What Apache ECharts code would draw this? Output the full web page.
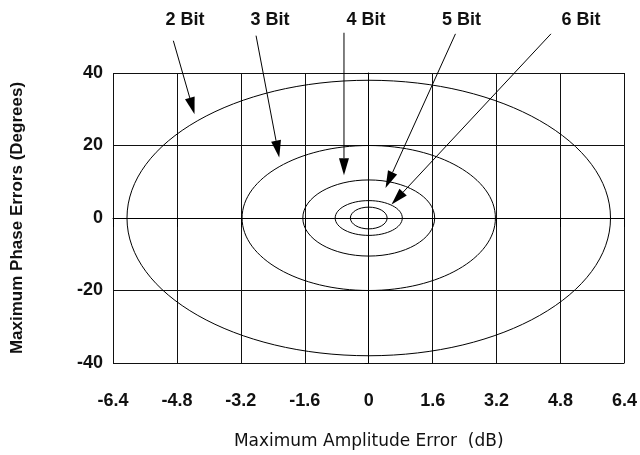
<!DOCTYPE html>
<html>
<head>
<meta charset="utf-8">
<script src="https://cdn.jsdelivr.net/npm/echarts@6/dist/echarts.min.js"></script>
<style>
html, body { margin: 0; padding: 0; background: #fff; }
#chart { width: 640px; height: 455px; }
</style>
</head>
<body>
<div id="chart"></div>
<script>
// phase shifter error ellipses, one per bit count
const bits = ["2 Bit", "3 Bit", "4 Bit", "5 Bit", "6 Bit"];
const ampRadius = [6.05, 3.17, 1.65, 0.84, 0.46];   // dB
const phaseRadius = [38, 20, 10.5, 4.8, 3.0];       // degrees

// label + arrow annotations (data coords)
const labelPos = [[-4.6, 54.6], [-2.47, 54.6], [-0.07, 54.6], [2.32, 54.6], [5.31, 54.6]];
const arrowFrom = [[-4.89, 48.9], [-2.82, 50.3], [-0.62, 51.1], [2.17, 50.8], [4.56, 50.8]];
const arrowTo = [[-4.36, 28.6], [-2.24, 16.7], [-0.62, 11.8], [0.42, 8.3], [0.57, 3.7]];

const xTicks = [-6.4, 6.4, 1.6];
const yTicks = [-40, 40, 20];

const fam = "'Liberation Sans', Arial, sans-serif";

const chart = echarts.init(document.getElementById("chart"), null, { renderer: "canvas" });

const option = {
	animation: false,
	backgroundColor: "#fff",
	grid: { left: 113, right: 14, top: 73, bottom: 87 },
	xAxis: {
		type: "value",
		min: xTicks[0],
		max: xTicks[1],
		interval: xTicks[2],
		name: "Maximum Amplitude Error  (dB)",
		nameLocation: "middle",
		nameGap: 70,
		nameTextStyle: { color: "#111", fontSize: 17, fontFamily: "'DejaVu Sans', sans-serif" },
		axisLine: { show: true, lineStyle: { color: "#000", width: 1 } },
		axisTick: { show: true, length: 9, lineStyle: { color: "#000" } },
		axisLabel: {
			margin: 29,
			color: "#111",
			fontSize: 18,
			fontWeight: "bold",
			fontFamily: fam,
			formatter: (v) => (Math.abs(v) < 1e-9 ? "0" : v.toFixed(1)),
		},
		splitLine: { show: true, lineStyle: { color: "#111", width: 1 } },
	},
	yAxis: {
		type: "value",
		min: yTicks[0],
		max: yTicks[1],
		interval: yTicks[2],
		name: "Maximum Phase Errors (Degrees)",
		nameLocation: "middle",
		nameGap: 87,
		nameRotate: 90,
		nameTextStyle: { color: "#111", fontSize: 17, fontWeight: "bold", fontFamily: fam },
		axisLine: { show: true, lineStyle: { color: "#000", width: 1 } },
		axisTick: { show: true, length: 4, lineStyle: { color: "#000" } },
		axisLabel: {
			margin: 10,
			color: "#111",
			fontSize: 18,
			fontWeight: "bold",
			fontFamily: fam,
		},
		splitLine: { show: true, lineStyle: { color: "#111", width: 1 } },
	},
	series: [
		{
			// ellipses
			type: "custom",
			name: "ellipses",
			silent: true,
			data: bits.map((b, i) => [0, 0, ampRadius[i], phaseRadius[i]]),
			renderItem: (params, api) => {
				const c = api.coord([api.value(0), api.value(1)]);
				const s = api.size([api.value(2), api.value(3)]);
				return {
					type: "ellipse",
					shape: { cx: c[0], cy: c[1], rx: s[0], ry: s[1] },
					style: { fill: "none", stroke: "#000", lineWidth: 1 },
				};
			},
		},
		{
			// arrows
			type: "custom",
			name: "arrows",
			silent: true,
			clip: false,
			data: bits.map((b, i) => [arrowFrom[i][0], arrowFrom[i][1], arrowTo[i][0], arrowTo[i][1]]),
			renderItem: (params, api) => {
				const p0 = api.coord([api.value(0), api.value(1)]);
				const p1 = api.coord([api.value(2), api.value(3)]);
				const dx = p1[0] - p0[0], dy = p1[1] - p0[1];
				const len = Math.sqrt(dx * dx + dy * dy);
				const ux = dx / len, uy = dy / len;
				const headLen = 17, headW = 5;
				const bx = p1[0] - ux * headLen, by = p1[1] - uy * headLen;
				return {
					type: "group",
					children: [
						{
							type: "line",
							shape: { x1: p0[0], y1: p0[1], x2: bx, y2: by },
							style: { stroke: "#000", lineWidth: 1 },
						},
						{
							type: "polygon",
							shape: {
								points: [
									[p1[0], p1[1]],
									[bx - uy * headW, by + ux * headW],
									[bx + uy * headW, by - ux * headW],
								],
							},
							style: { fill: "#000" },
						},
					],
				};
			},
		},
		{
			// labels
			type: "custom",
			name: "labels",
			silent: true,
			clip: false,
			data: bits.map((b, i) => [labelPos[i][0], labelPos[i][1]]),
			renderItem: (params, api) => {
				const p = api.coord([api.value(0), api.value(1)]);
				return {
					type: "text",
					x: p[0],
					y: p[1],
					style: {
						text: bits[params.dataIndex],
						fill: "#111",
						font: "bold 18px " + fam,
						align: "center",
						verticalAlign: "middle",
						textAlign: "center",
						textVerticalAlign: "middle",
					},
				};
			},
		},
	],
};

chart.setOption(option);
</script>
</body>
</html>
